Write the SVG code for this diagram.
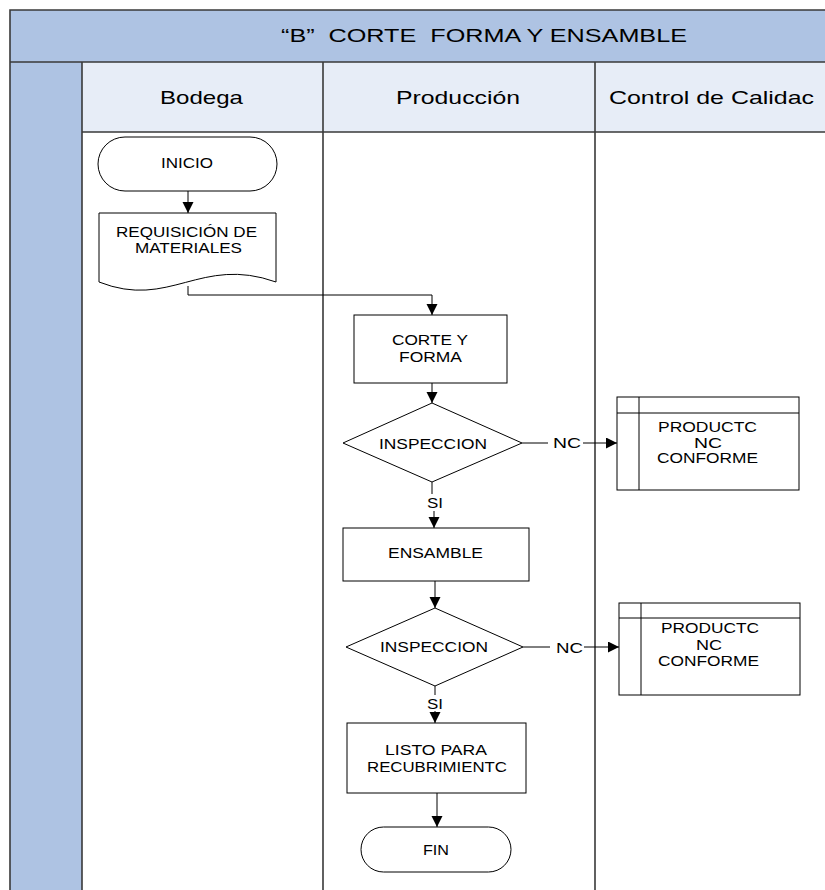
<svg xmlns="http://www.w3.org/2000/svg" width="825" height="890" viewBox="0 0 825 890">
  <style>
    .band { fill: #AEC3E3; }
    .head { fill: #E7EDF7; }
    .frame { stroke: #3a3a3a; stroke-width: 1.6; fill: none; }
    .shape { fill: #ffffff; stroke: #000000; stroke-width: 1; }
    .conn { fill: none; stroke: #000000; stroke-width: 1; }
    text { font-family: "Liberation Sans", Arial, sans-serif; fill: #000000; }
    .title { font-size: 19px; white-space: pre; }
    .lane { font-size: 19px; }
    .lbl { font-size: 14px; }
    .big { font-size: 15px; }
  </style>
  <defs>
    <marker id="arrow" markerUnits="userSpaceOnUse" markerWidth="12" markerHeight="12" refX="11" refY="5.5" orient="auto">
      <path d="M0,0 L11,5.5 L0,11 z" fill="#000000"/>
    </marker>
  </defs>

  <!-- swimlane frame -->
  <g id="frame">
    <rect class="band" x="10" y="10" width="830" height="52"/>
    <rect class="band" x="10" y="62" width="72" height="840"/>
    <rect class="head" x="82" y="62" width="760" height="70"/>
    <rect fill="#ffffff" x="82" y="132" width="760" height="770"/>
    <path class="frame" d="M10,900 V10 H840 M10,62 H840 M82,132 H840 M82,62 V900 M323,62 V900 M595,62 V900"/>
    <text class="title" x="281" y="42" textLength="406" lengthAdjust="spacingAndGlyphs">“B”  CORTE  FORMA Y ENSAMBLE</text>
    <text class="lane" x="160" y="104" textLength="83" lengthAdjust="spacingAndGlyphs">Bodega</text>
    <text class="lane" x="396" y="104" textLength="124" lengthAdjust="spacingAndGlyphs">Producción</text>
    <text class="lane" x="609" y="104" textLength="205" lengthAdjust="spacingAndGlyphs">Control de Calidac</text>
  </g>

  <!-- connectors -->
  <g id="connectors">
    <path class="conn" d="M188,191 V213" marker-end="url(#arrow)"/>
    <path class="conn" d="M188,286 V295 H432 V315" marker-end="url(#arrow)"/>
    <path class="conn" d="M432,383 V403" marker-end="url(#arrow)"/>
    <path class="conn" d="M522,443 H548"/>
    <path class="conn" d="M583,443 H617" marker-end="url(#arrow)"/>
    <path class="conn" d="M432,482 V494"/>
    <path class="conn" d="M434,511 V528" marker-end="url(#arrow)"/>
    <path class="conn" d="M435,581 V608" marker-end="url(#arrow)"/>
    <path class="conn" d="M523,647 H550"/>
    <path class="conn" d="M584,647 H619" marker-end="url(#arrow)"/>
    <path class="conn" d="M435,686 V695"/>
    <path class="conn" d="M435,711 V723" marker-end="url(#arrow)"/>
    <path class="conn" d="M437,793 V827" marker-end="url(#arrow)"/>
    <text class="big" x="553" y="448" textLength="28" lengthAdjust="spacingAndGlyphs">NC</text>
    <text class="big" x="427" y="508" textLength="16" lengthAdjust="spacingAndGlyphs">SI</text>
    <text class="big" x="556" y="653" textLength="27" lengthAdjust="spacingAndGlyphs">NC</text>
    <text class="big" x="427" y="709" textLength="16" lengthAdjust="spacingAndGlyphs">SI</text>
  </g>

  <g id="inicio">
    <rect class="shape" x="98" y="137" width="179" height="54" rx="27" ry="27"/>
    <text class="lbl" x="161" y="168" textLength="52" lengthAdjust="spacingAndGlyphs">INICIO</text>
  </g>

  <g id="requisicion">
    <path class="shape" d="M99,213 H276 V282 C200,255 170,310 99,282 Z"/>
    <text class="lbl" x="116" y="237" textLength="141" lengthAdjust="spacingAndGlyphs">REQUISICIÓN DE</text>
    <text class="lbl" x="135" y="253" textLength="107" lengthAdjust="spacingAndGlyphs">MATERIALES</text>
  </g>

  <g id="corte-forma">
    <rect class="shape" x="354" y="315" width="153" height="68"/>
    <text class="lbl" x="392" y="345" textLength="76" lengthAdjust="spacingAndGlyphs">CORTE Y</text>
    <text class="lbl" x="399" y="362" textLength="63" lengthAdjust="spacingAndGlyphs">FORMA</text>
  </g>

  <g id="inspeccion-1">
    <polygon class="shape" points="432,403 522,443 432,482 343,443"/>
    <text class="big" x="379" y="449" textLength="108" lengthAdjust="spacingAndGlyphs">INSPECCION</text>
  </g>

  <g id="no-conforme-1">
    <rect class="shape" x="617" y="397" width="182" height="93"/>
    <path class="conn" d="M617,413 H799 M639,397 V490"/>
    <text class="lbl" x="658" y="432" textLength="99" lengthAdjust="spacingAndGlyphs">PRODUCTC</text>
    <text class="lbl" x="694" y="448" textLength="28" lengthAdjust="spacingAndGlyphs">NC</text>
    <text class="lbl" x="657" y="463" textLength="101" lengthAdjust="spacingAndGlyphs">CONFORME</text>
  </g>

  <g id="ensamble">
    <rect class="shape" x="343" y="528" width="186" height="53"/>
    <text class="lbl" x="388" y="558" textLength="95" lengthAdjust="spacingAndGlyphs">ENSAMBLE</text>
  </g>

  <g id="inspeccion-2">
    <polygon class="shape" points="435,608 523,647 435,686 346,647"/>
    <text class="big" x="380" y="652" textLength="108" lengthAdjust="spacingAndGlyphs">INSPECCION</text>
  </g>

  <g id="no-conforme-2">
    <rect class="shape" x="619" y="603" width="181" height="92"/>
    <path class="conn" d="M619,618 H800 M641,603 V695"/>
    <text class="lbl" x="661" y="633" textLength="98" lengthAdjust="spacingAndGlyphs">PRODUCTC</text>
    <text class="lbl" x="696" y="650" textLength="26" lengthAdjust="spacingAndGlyphs">NC</text>
    <text class="lbl" x="658" y="666" textLength="101" lengthAdjust="spacingAndGlyphs">CONFORME</text>
  </g>

  <g id="listo">
    <rect class="shape" x="347" y="723" width="179" height="70"/>
    <text class="lbl" x="385" y="755" textLength="102" lengthAdjust="spacingAndGlyphs">LISTO PARA</text>
    <text class="lbl" x="367" y="772" textLength="140" lengthAdjust="spacingAndGlyphs">RECUBRIMIENTC</text>
  </g>

  <g id="fin">
    <rect class="shape" x="361" y="827" width="150" height="45" rx="22.5" ry="22.5"/>
    <text class="lbl" x="423" y="855" textLength="26" lengthAdjust="spacingAndGlyphs">FIN</text>
  </g>
</svg>
